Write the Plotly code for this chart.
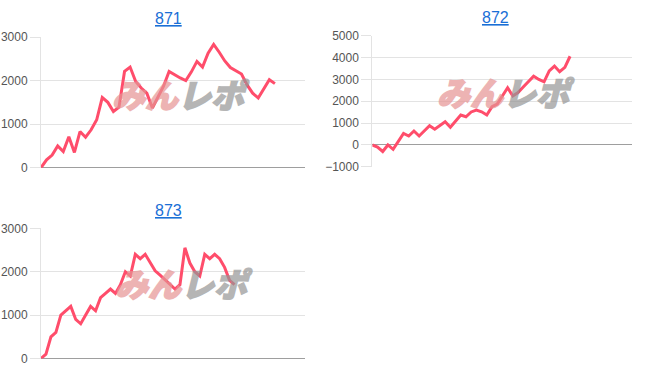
import plotly.graph_objects as go

titles = ["871", "872", "873"]

s871 = [0, 180, 290, 500, 370, 710, 350, 830, 700, 870, 1100, 1610, 1500, 1290, 1390,
        2210, 2310, 1980, 1830, 1710, 1370, 1620, 1870, 2210, 2130, 2060, 2000, 2200,
        2440, 2310, 2630, 2830, 2650, 2450, 2300, 2230, 2150, 1900, 1710, 1600, 1800,
        2020, 1930]
s872 = [0, -100, -300, 0, -200, 150, 530, 410, 640, 410, 650, 880, 720, 870, 1060, 810,
        1110, 1370, 1290, 1510, 1600, 1520, 1370, 1750, 1870, 2250, 2620, 2240, 2400,
        2650, 2900, 3150, 3000, 2890, 3390, 3610, 3350, 3550, 4060]
s873 = [0, 100, 500, 600, 1000, 1100, 1200, 900, 800, 1000, 1200, 1100, 1400, 1500,
        1600, 1500, 1700, 2000, 1900, 2400, 2300, 2400, 2220, 2020, 1920, 1820, 1700,
        1600, 1700, 2550, 2200, 2000, 1900, 2400, 2300, 2400, 2300, 2100, 1800, 1700]

series = [s871, s872, s873]
yranges = [[0, 3000], [-1000, 5000], [0, 3000]]
xmax = [47.4, 49.9, 53.2]

W, H = 652, 382
# pixel boxes: (left, right, top, bottom)
boxes = [(41, 305, 37.0, 167.7), (372.3, 632, 35.7, 166.8), (41, 305, 228.3, 358.5)]
title_pos = [(168.5, 19), (495.5, 18), (168.5, 210)]
wm_pos = [(181, 94), (506, 92), (184, 283)]

fig = go.Figure()
LINE = "#ff4d6b"
GRID = "#e3e3e3"
PINK = "rgb(230,148,148)"
GREY = "rgb(150,150,150)"

for k in range(3):
    xa = "xaxis" if k == 0 else f"xaxis{k+1}"
    ya = "yaxis" if k == 0 else f"yaxis{k+1}"
    xr = "x" if k == 0 else f"x{k+1}"
    yr = "y" if k == 0 else f"y{k+1}"
    l, r, t, b = boxes[k]
    fig.add_trace(go.Scatter(
        x=list(range(len(series[k]))), y=series[k], mode="lines",
        line=dict(color=LINE, width=3), xaxis=xr, yaxis=yr,
        hoverinfo="skip", showlegend=False))
    fig.layout[xa] = dict(domain=[l / W, r / W], range=[0, xmax[k]],
                          showgrid=False, zeroline=False, showticklabels=False,
                          ticks="", showline=False, anchor=yr, fixedrange=True,
                          automargin=False)
    fig.layout[ya] = dict(domain=[1 - b / H, 1 - t / H], range=yranges[k],
                          dtick=1000, showgrid=True, gridcolor=GRID, gridwidth=1,
                          zeroline=True, zerolinecolor="#9e9e9e", zerolinewidth=1,
                          showline=True, linecolor=GRID, linewidth=1,
                          ticks="outside", ticklen=10, tickcolor=GRID,
                          tickfont=dict(family="Liberation Sans, Arial", size=12, color="#555555"),
                          anchor=xr, fixedrange=True, automargin=False)
    tx, ty = title_pos[k]
    fig.add_annotation(x=tx / W, y=1 - ty / H, xref="paper", yref="paper",
                       text=titles[k], showarrow=False, xanchor="center", yanchor="middle",
                       font=dict(family="Liberation Sans, Arial", size=16, color="#1a6fd6",
                                 lineposition="under"))
    wx, wy = wm_pos[k]
    fig.add_annotation(x=wx / W, y=1 - wy / H, xref="paper", yref="paper",
                       text=f"<span style='fill:{PINK};stroke:{PINK};stroke-width:1.5px'>みん</span>"
                            f"<span style='fill:{GREY};stroke:{GREY};stroke-width:1.5px'>レポ</span>",
                       showarrow=False, xanchor="center", yanchor="middle", opacity=0.7,
                       font=dict(family="Noto Sans CJK JP", size=33, weight=900,
                                 style="italic"))

fig.update_layout(width=W, height=H,
                  margin=dict(l=0, r=0, t=0, b=0, pad=0, autoexpand=False),
                  paper_bgcolor="white", plot_bgcolor="white", showlegend=False)

fig.write_html("out.html")
